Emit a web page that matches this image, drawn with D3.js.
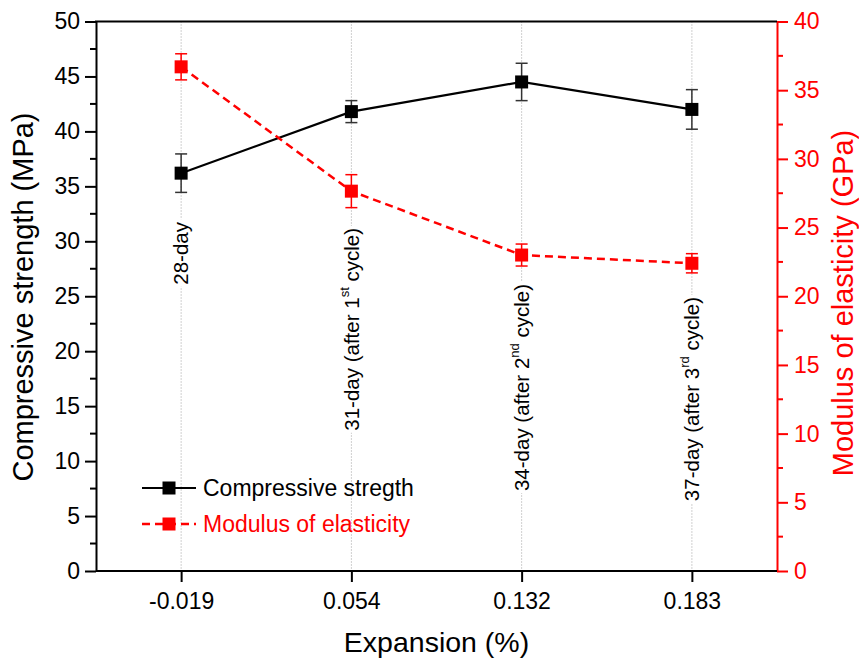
<!DOCTYPE html>
<html><head><meta charset="utf-8">
<script src="https://cdn.jsdelivr.net/npm/d3@7"></script>
<style>body{margin:0;background:#fff}svg{display:block}svg text{font-family:Arial,"Liberation Sans",sans-serif}</style>
</head><body>
<svg id="c" width="859" height="661"></svg>
<script>
// ---- data ----
const categories = ["-0.019", "0.054", "0.132", "0.183"];
const strength = [36.2, 41.8, 44.5, 42.0];
const strengthErr = [1.75, 1.0, 1.7, 1.8];
const modulus = [36.7, 27.65, 23.0, 22.4];
const modulusErr = [0.95, 1.2, 0.8, 0.7];
const annotationMain = ["28-day", "31-day (after 1", "34-day (after 2", "37-day (after 3"];
const annotationSup = ["", "st", "nd", "rd"];
const annotationTail = ["", " cycle)", " cycle)", " cycle)"];
const leftTicks = [0, 5, 10, 15, 20, 25, 30, 35, 40, 45, 50];
const rightTicks = [0, 5, 10, 15, 20, 25, 30, 35, 40];
const seriesNames = ["Compressive stregth", "Modulus of elasticity"];

// ---- layout ----
const L = 96, R = 777, T = 21.5, B = 571;
const annTop = [222, 228, 284, 297];
const RED = "#ff0000";

const svg = d3.select("#c");
const x = d3.scalePoint().domain(categories).range([L, R]).padding(0.5);
const yL = d3.scaleLinear().domain([0, 50]).range([B, T]);
const yR = d3.scaleLinear().domain([0, 40]).range([B, T]);

// gridlines
svg.append("g").selectAll("line").data(categories).join("line")
  .attr("x1", d => x(d)).attr("x2", d => x(d)).attr("y1", T).attr("y2", B)
  .attr("stroke", "#a0a0a0").attr("stroke-width", 1).attr("stroke-dasharray", "1,2");

// annotations
categories.forEach((c, i) => {
  const g = svg.append("g").attr("transform", `translate(${x(c)},${annTop[i]}) rotate(-90)`);
  const rect = g.append("rect").attr("fill", "#fff");
  const t = g.append("text").attr("text-anchor", "end").attr("dy", "0.35em")
    .attr("font-size", 20.5).attr("fill", "#000");
  t.append("tspan").text(annotationMain[i]);
  if (annotationSup[i]) {
    t.append("tspan").attr("font-size", 13).attr("dy", "-0.75em").text(annotationSup[i]);
    t.append("tspan").attr("dy", "0.48em").text(annotationTail[i]);
  }
  const bb = t.node().getBBox();
  rect.attr("x", bb.x - 2).attr("y", bb.y).attr("width", bb.width + 4).attr("height", bb.height);
});

// lines
const lineL = d3.line().x((d, i) => x(categories[i])).y(d => yL(d));
const lineR = d3.line().x((d, i) => x(categories[i])).y(d => yR(d));
svg.append("path").attr("d", lineL(strength)).attr("fill", "none").attr("stroke", "#000").attr("stroke-width", 2.2);
svg.append("path").attr("d", lineR(modulus)).attr("fill", "none").attr("stroke", RED).attr("stroke-width", 2.5)
  .attr("stroke-dasharray", "8,5");

// error bars
function errBars(vals, errs, y, color) {
  const g = svg.append("g").attr("stroke", color).attr("stroke-width", 1.5);
  vals.forEach((v, i) => {
    const cx = x(categories[i]);
    g.append("line").attr("x1", cx).attr("x2", cx).attr("y1", y(v - errs[i])).attr("y2", y(v + errs[i]));
    [v - errs[i], v + errs[i]].forEach(e => {
      g.append("line").attr("x1", cx - 6).attr("x2", cx + 6).attr("y1", y(e)).attr("y2", y(e));
    });
  });
}
errBars(strength, strengthErr, yL, "#333");
errBars(modulus, modulusErr, yR, RED);

// markers
svg.append("g").selectAll("rect").data(strength).join("rect")
  .attr("x", (d, i) => x(categories[i]) - 6.5).attr("y", d => yL(d) - 6.5)
  .attr("width", 13).attr("height", 13).attr("fill", "#000");
svg.append("g").selectAll("rect").data(modulus).join("rect")
  .attr("x", (d, i) => x(categories[i]) - 6.5).attr("y", d => yR(d) - 6.5)
  .attr("width", 13).attr("height", 13).attr("fill", RED);

// axes
function styleAxis(g, color, fs) {
  g.attr("font-family", null);
  g.selectAll("path").attr("stroke", color).attr("stroke-width", 2);
  g.selectAll("line").attr("stroke", color).attr("stroke-width", 2);
  g.selectAll("text").attr("fill", color).attr("font-size", fs);
}
const minorL = d3.range(2.5, 50, 5);
const minorR = d3.range(2.5, 40, 5);
// left
const gl = svg.append("g").attr("transform", `translate(${L},0)`)
  .call(d3.axisLeft(yL).tickValues(leftTicks).tickSize(11).tickSizeOuter(0).tickPadding(5));
styleAxis(gl, "#000", 23);
svg.append("g").attr("transform", `translate(${L},0)`).selectAll("line").data(minorL).join("line")
  .attr("x1", -6).attr("x2", 0).attr("y1", d => yL(d)).attr("y2", d => yL(d)).attr("stroke", "#000").attr("stroke-width", 2);
// right
const gr = svg.append("g").attr("transform", `translate(${R},0)`)
  .call(d3.axisRight(yR).tickValues(rightTicks).tickSize(11).tickSizeOuter(0).tickPadding(6));
styleAxis(gr, RED, 23);
svg.append("g").attr("transform", `translate(${R},0)`).selectAll("line").data(minorR).join("line")
  .attr("x1", 0).attr("x2", 6).attr("y1", d => yR(d)).attr("y2", d => yR(d)).attr("stroke", RED).attr("stroke-width", 2);
// bottom
const gb = svg.append("g").attr("transform", `translate(0,${B})`)
  .call(d3.axisBottom(x).tickSize(11).tickSizeOuter(0).tickPadding(11));
styleAxis(gb, "#000", 23);
gb.select("path").attr("d", `M${L},0H${R}`);
// top frame
svg.append("line").attr("x1", L - 1).attr("x2", R).attr("y1", T).attr("y2", T).attr("stroke", "#000").attr("stroke-width", 2);

// axis titles
svg.append("text").attr("transform", `translate(33,297) rotate(-90)`).attr("text-anchor", "middle")
  .attr("font-size", 29).attr("fill", "#000").text("Compressive strength (MPa)");
svg.append("text").attr("transform", `translate(853,303) rotate(-90)`).attr("text-anchor", "middle")
  .attr("font-size", 29).attr("fill", RED).text("Modulus of elasticity (GPa)");
svg.append("text").attr("x", (L + R) / 2).attr("y", 652).attr("text-anchor", "middle")
  .attr("font-size", 28.5).attr("fill", "#000").text("Expansion (%)");

// legend
const legY = [488, 524];
const legColors = ["#000", RED];
const legDash = [null, "8,5"];
seriesNames.forEach((n, i) => {
  const g = svg.append("g").attr("transform", `translate(0,${legY[i]})`);
  g.append("line").attr("x1", 142).attr("x2", 196).attr("y1", 0).attr("y2", 0)
    .attr("stroke", legColors[i]).attr("stroke-width", i ? 2.5 : 2.2).attr("stroke-dasharray", legDash[i]);
  g.append("rect").attr("x", 169 - 6.5).attr("y", -6.5).attr("width", 13).attr("height", 13).attr("fill", legColors[i]);
  g.append("text").attr("x", 203).attr("dy", "0.35em").attr("font-size", 23).attr("fill", legColors[i]).text(n);
});
</script>
</body></html>
